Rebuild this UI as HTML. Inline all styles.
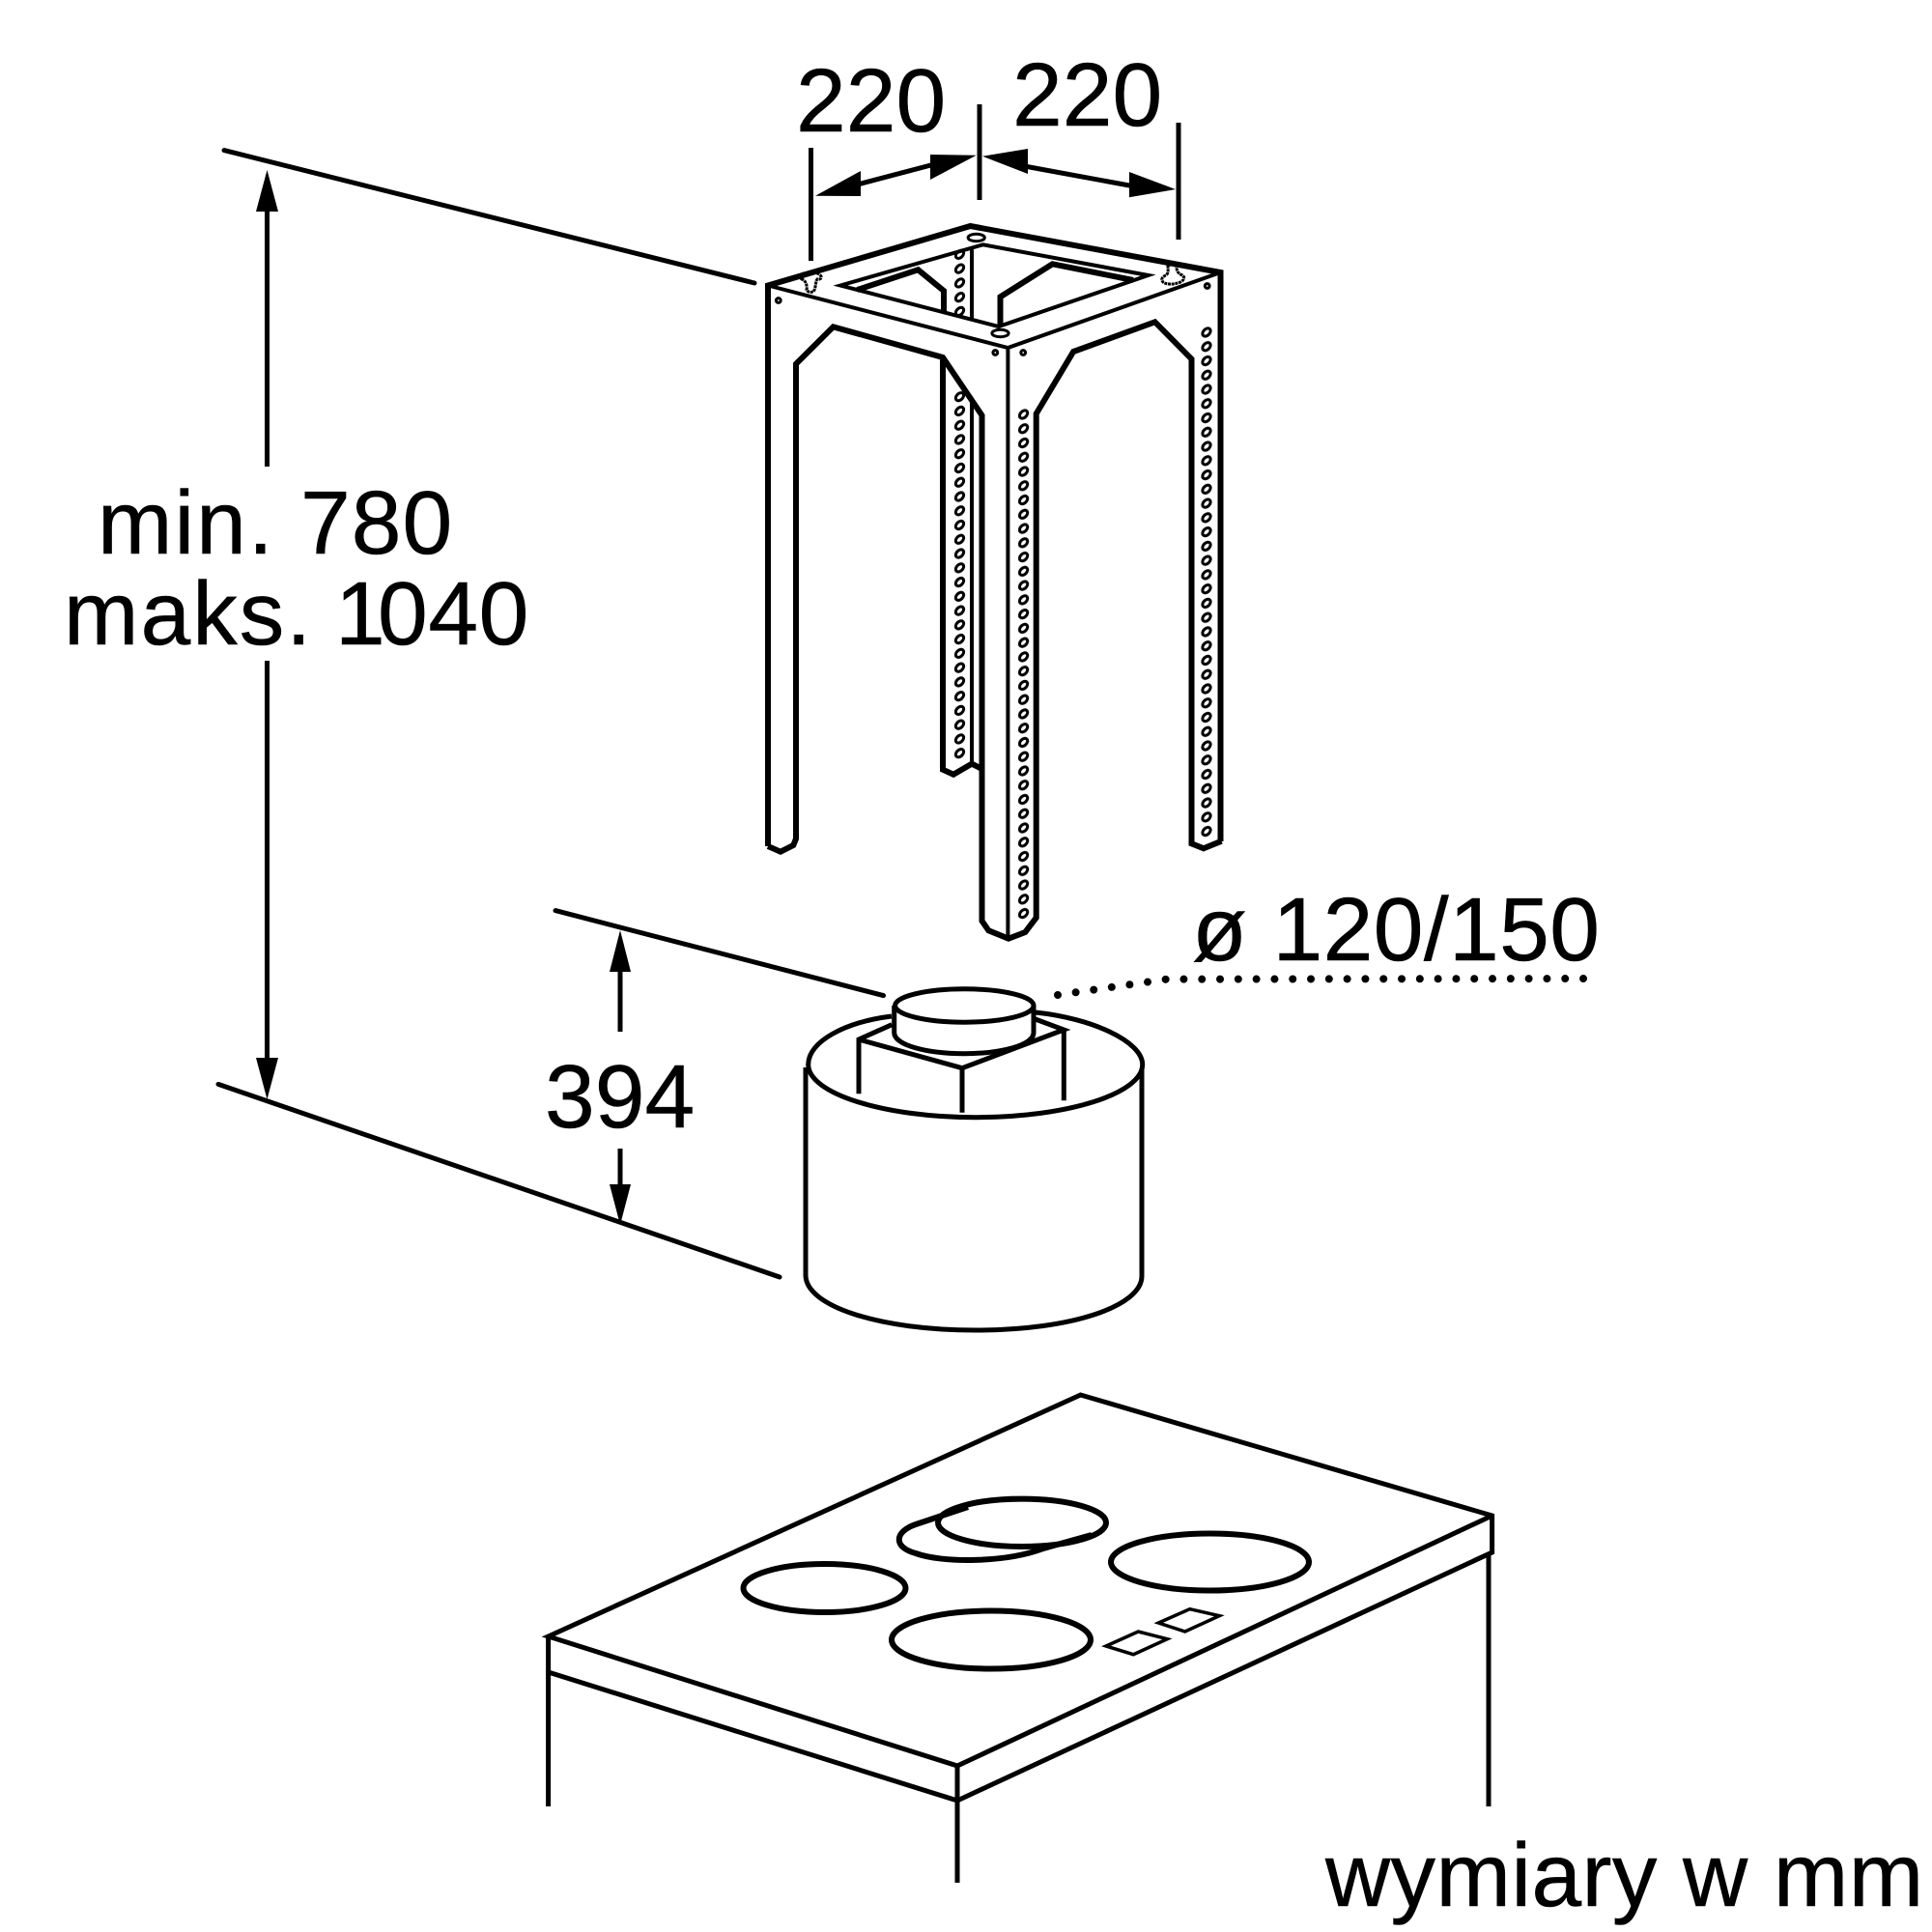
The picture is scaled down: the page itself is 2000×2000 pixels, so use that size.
<!DOCTYPE html>
<html><head><meta charset="utf-8"><title>Wymiary</title>
<style>html,body{margin:0;padding:0;background:#fff}svg{display:block}text{font-family:"Liberation Sans",Arial,sans-serif;font-size:93px;fill:#000;stroke:#000;stroke-width:.5px}</style></head>
<body>
<svg xmlns="http://www.w3.org/2000/svg" width="2000" height="2000" viewBox="0 0 2000 2000">
<defs>
<pattern id="h" patternUnits="userSpaceOnUse" width="20" height="14.76">
<ellipse cx="10" cy="7.38" rx="4.8" ry="3.3" transform="rotate(-45 10 7.38)" fill="none" stroke="#000" stroke-width="3"/>
</pattern>
</defs>
<rect width="2000" height="2000" fill="#fff"/>
<g fill="none" stroke="#000" stroke-width="5" stroke-linejoin="miter" stroke-linecap="butt">
<!-- dimension lines -->
<path d="M839.5 153V270M1014 108V207M1220 127V248"/>
<path d="M880 193L975 168M1055 171L1180 194"/>
<path d="M232 155.6L781 293M226 1122.4L807 1322M575 942.6L914.5 1030.6" stroke-linecap="round"/>
<path d="M276.5 210V483M276.5 684V1105M642 1000V1068M642 1189V1235"/>
<!-- frame -->
<g stroke-width="6">
<path d="M795 876V295.5L1004.5 234L1263.5 282V871"/>
<path d="M795 876L808 881.7L821.3 875L824 868.3V376.7L862.6 338.3L976 370L1016.5 430V953.3L1023.4 963.3L1044 971.7L1061.3 965L1072.7 950V428.3L1111.2 364L1195.6 333.3L1233.5 371.7V873.3L1246 878.3L1264.5 870.7"/>
<path d="M976 370V796.7L987 801.7L1006 790.7L1016.5 796"/>
<path d="M887.4 300L950.4 279.3L977 301V322M1035.5 336V307.3L1089.5 273.3L1173 290"/>
</g>
<g stroke-width="4">
<path d="M795 295.5L1043.4 360L1263.5 282"/>
<path d="M1043.4 360V971.7"/>
<path d="M870 295.5L1017.6 253.3L1188.7 285L1033.8 338Z"/>
<path d="M1006 258.3V330M1006 413.3V791"/>
</g>
<!-- small holes -->
<g stroke-width="3">
<ellipse cx="1010.7" cy="246" rx="8.6" ry="3.7"/>
<ellipse cx="1035.5" cy="345" rx="8.6" ry="3.7"/>
<circle cx="805.8" cy="311" r="2.4"/>
<circle cx="1030.3" cy="365" r="2.4"/>
<circle cx="1059.2" cy="365" r="2.4"/>
<circle cx="1249.7" cy="296" r="2.4"/>
<path transform="translate(0 -2)" d="M830 291C826 288 830 284 835 285C838 284 842 283 846 285C852 287 851 292 846 291C844 293 845 300 842 304C838 305 836 304 835 302C836 298 834 292 830 291Z" stroke-dasharray="3 .7"/>
<path transform="translate(0 -2)" d="M1209 277C1212 275 1216 276 1218 278C1218 282 1219 285 1224 287C1228 290 1224 294 1219 295C1213 297 1206 296 1204 294C1201 291 1204 288 1207 287C1210 285 1209 281 1209 277Z" stroke-dasharray="3 .7"/>
</g>
<!-- filter -->
<g stroke-width="5">
<path d="M923 1052C875 1058 836.7 1078 836.7 1102C836.7 1132 915 1156.7 1010 1156.7C1105 1156.7 1182.7 1132 1182.7 1102C1182.7 1078 1130 1054 1071.7 1048"/>
<path d="M834 1105V1320C834 1352 910 1377 1010 1377C1110 1377 1182 1352 1182 1321V1106"/>
<ellipse cx="998.3" cy="1041" rx="71.7" ry="17.2"/>
<path d="M925.7 1041V1069C925.7 1082 960 1090.7 998.3 1090.7C1036 1090.7 1070 1082 1070 1069V1041"/>
<path d="M889 1132.3V1076L923.3 1060.7M889 1076L996 1105.7V1151.7M996 1105.7L1101.3 1066L1071.7 1055M1101.3 1065V1139.3"/>
</g>
<!-- dotted leader -->
<path d="M1095 1030L1207.7 1013.7L1650 1013" stroke-width="8" stroke-linecap="round" stroke-dasharray="0 18.8"/>
<!-- cooktop -->
<g stroke-width="5">
<path d="M567.6 1694L1118.6 1444L1544.6 1569V1607L991 1864V1828L567.6 1694Z"/>
<path d="M991 1828L1544.6 1569"/>
<path d="M567.6 1694V1870M567.6 1731L991 1864V1949M1541 1610V1870"/>
</g>
<g stroke-width="6">
<ellipse cx="1252.5" cy="1617" rx="102.5" ry="29.5"/>
<ellipse cx="1026" cy="1697.5" rx="103" ry="30"/>
<ellipse cx="853.5" cy="1644" rx="84" ry="25"/>
<ellipse cx="1058" cy="1576.3" rx="87" ry="24.7"/>
<path d="M1002 1560L948 1578C925 1586 925 1602 948 1608C975 1618 1040 1618 1080 1603L1130 1589"/>
</g>
<g stroke-width="3.5">
<path d="M1145 1704L1178.3 1689L1208.3 1696.7L1173.3 1712.7Z"/>
<path d="M1199.3 1680L1231.7 1665.7L1262.3 1672.7L1226.7 1689Z"/>
</g>
</g>
<!-- perforations -->
<g transform="translate(1239 336.6)"><rect width="20" height="531.4" fill="url(#h)"/></g>
<g transform="translate(1049.6 421.6)"><rect width="20" height="531.4" fill="url(#h)"/></g>
<g transform="translate(983.5 403.3)"><rect width="20" height="383.8" fill="url(#h)"/></g>
<g transform="translate(983.5 256)"><rect width="20" height="73.8" fill="url(#h)"/></g>
<!-- arrowheads -->
<g fill="#000">
<polygon points="844,202.7 891,177 891,203"/>
<polygon points="1010.7,160.7 963,160 963,186"/>
<polygon points="1017,161.7 1064,154 1064,180"/>
<polygon points="1217,196 1169,178 1169,204.3"/>
<polygon points="276.5,176 265,219 288,219"/>
<polygon points="276.5,1138 265,1095 288,1095"/>
<polygon points="642,963 631,1006 653,1006"/>
<polygon points="642,1268 631,1226 653,1226"/>
</g>
<!-- labels -->
<text x="824" y="136">220</text>
<text x="1048" y="130">220</text>
<text x="101" y="573" letter-spacing="2">min.</text>
<text x="311" y="573" letter-spacing="1">780</text>
<text x="66" y="667" letter-spacing="2">maks.</text>
<text x="347" y="667">1</text>
<text x="391" y="667" letter-spacing=".6">040</text>
<text x="564" y="1167">394</text>
<text x="1234" y="994" letter-spacing=".4">ø 120/150</text>
<text x="1372" y="1973" letter-spacing=".4">wymiary w mm</text>
</svg>
</body></html>
